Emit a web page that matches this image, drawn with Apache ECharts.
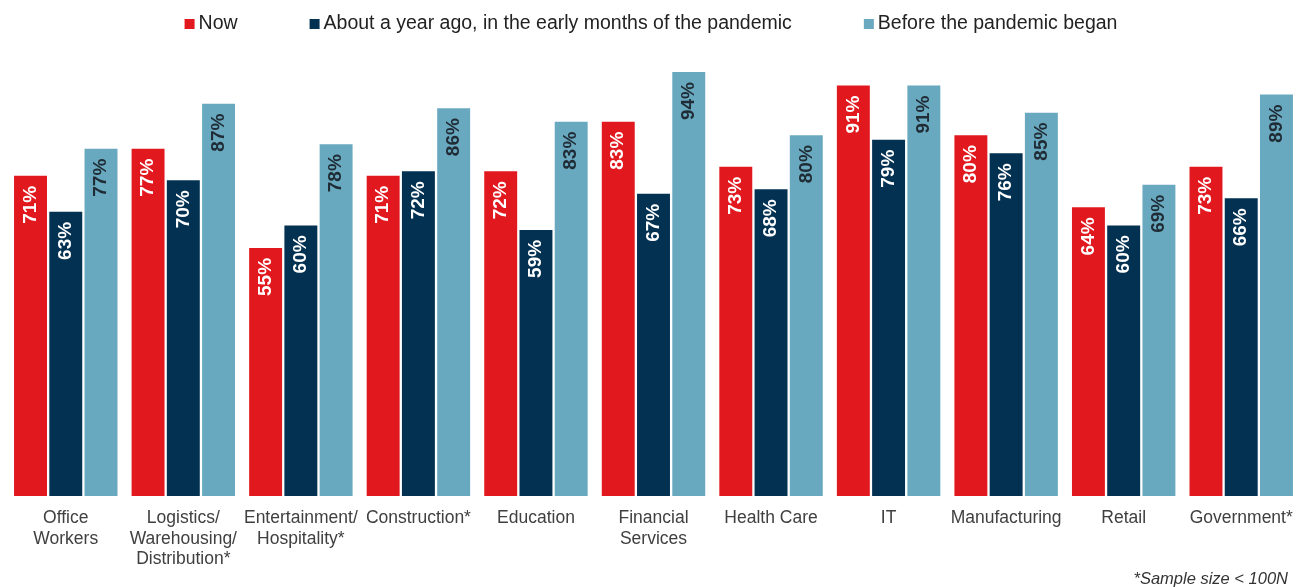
<!DOCTYPE html>
<html>
<head>
<meta charset="utf-8">
<script src="https://cdn.jsdelivr.net/npm/echarts@6/dist/echarts.min.js"></script>
<style>
  html, body { margin: 0; padding: 0; background: #fff; }
  #chart { width: 1302px; height: 587px; }
</style>
</head>
<body>
<div id="chart"></div>
<script>
// Industries shown along the x axis
const categories = [
  'Office\nWorkers',
  'Logistics/\nWarehousing/\nDistribution*',
  'Entertainment/\nHospitality*',
  'Construction*',
  'Education',
  'Financial\nServices',
  'Health Care',
  'IT',
  'Manufacturing',
  'Retail',
  'Government*'
];

// Share of respondents (%) per period
const seriesNames = [
  'Now',
  'About a year ago, in the early months of the pandemic',
  'Before the pandemic began'
];
const nowValues      = [71, 77, 55, 71, 72, 83, 73, 91, 80, 64, 73];
const yearAgoValues  = [63, 70, 60, 72, 59, 67, 68, 79, 76, 60, 66];
const beforeValues   = [77, 87, 78, 86, 83, 94, 80, 91, 85, 69, 89];

const colors = ['#e1191f', '#033152', '#69a9bf'];
const labelColors = ['#ffffff', '#ffffff', '#1f2b35'];

const FONT = 'Liberation Sans, Arial, sans-serif';

function makeSeries(name, data, idx) {
  return {
    name: name,
    type: 'bar',
    data: data,
    barGap: '7%',
    barCategoryGap: '12%',
    itemStyle: { color: colors[idx] },
    label: {
      show: true,
      position: 'insideTop',
      rotate: 90,
      align: 'right',
      verticalAlign: 'middle',
      distance: 10,
      color: labelColors[idx],
      fontFamily: FONT,
      fontWeight: 'bold',
      fontSize: 19,
      formatter: p => p.value + '%'
    }
  };
}

const chart = echarts.init(document.getElementById('chart'));
chart.setOption({
  animation: false,
  color: colors,
  legend: {
    top: 9,
    left: 'center',
    itemWidth: 10,
    itemHeight: 10,
    itemGap: 72,
    icon: 'rect',
    textStyle: { fontFamily: FONT, fontSize: 19.5, color: '#222', padding: [0, 0, 0, -1] },
    data: seriesNames
  },
  grid: { left: 7, right: 2, top: 45, bottom: 91, containLabel: false },
  xAxis: {
    type: 'category',
    data: categories,
    axisLine: { show: false },
    axisTick: { show: false },
    axisLabel: {
      interval: 0,
      margin: 12,
      fontFamily: FONT,
      fontSize: 17.5,
      lineHeight: 20.5,
      color: '#404040'
    }
  },
  yAxis: {
    type: 'value',
    min: 0,
    max: 100,
    show: false,
    splitLine: { show: false }
  },
  graphic: [{
    type: 'text',
    right: 14,
    top: 571,
    style: {
      text: '*Sample size < 100N',
      font: 'italic 16.5px ' + FONT,
      fill: '#333'
    }
  }],
  series: [
    makeSeries(seriesNames[0], nowValues, 0),
    makeSeries(seriesNames[1], yearAgoValues, 1),
    makeSeries(seriesNames[2], beforeValues, 2)
  ]
});
</script>
</body>
</html>
